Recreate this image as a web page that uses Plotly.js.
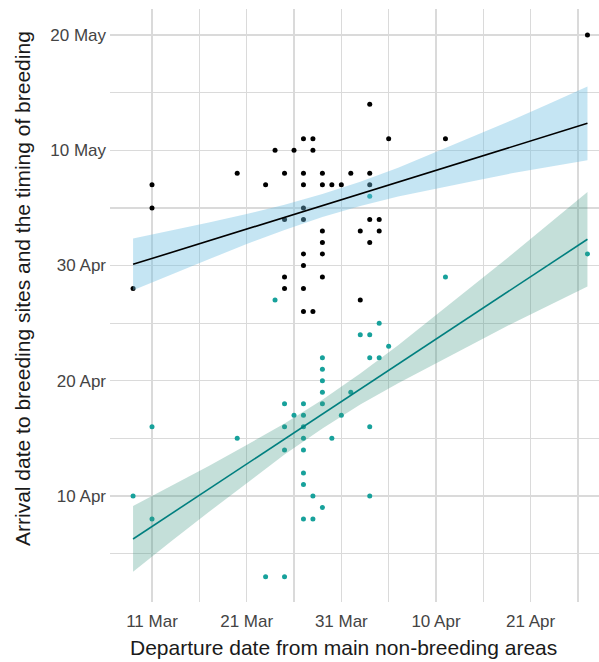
<!DOCTYPE html>
<html>
<head>
<meta charset="utf-8">
<script src="https://cdn.plot.ly/plotly-3.0.1.min.js"></script>
<style>
html,body{margin:0;padding:0;background:#fff;}
#chart{width:599px;height:662px;}
</style>
</head>
<body>
<div id="chart"></div>
<script>
// Day numbers counted from 1 March (day 0)
const xTickVals = [10, 15, 20, 25, 30, 35, 40, 45, 50, 55];
const xTickText = ["11 Mar", "", "21 Mar", "", "31 Mar", "", "10 Apr", "", "21 Apr", ""];
const yTickVals = [35, 40, 45, 50, 55, 60, 65, 70, 75, 80];
const yTickText = ["", "10 Apr", "", "20 Apr", "", "30 Apr", "", "10 May", "", "20 May"];

// Arrival to breeding sites (black)
const arrivalX = [8, 10, 10, 19, 22, 23, 24, 25, 26, 27, 27, 26, 26, 28, 28, 29, 30, 31, 24, 26, 26, 28, 28, 28, 26, 26, 24, 24, 26, 28, 26, 27, 56, 33, 35, 41, 33, 33, 33, 34, 32, 34, 33, 32];
const arrivalY = [58, 67, 65, 68, 67, 70, 68, 70, 71, 71, 70, 68, 67, 68, 67, 67, 67, 68, 64, 65, 64, 63, 62, 61, 61, 60, 59, 58, 58, 59, 56, 56, 80, 74, 71, 71, 68, 67, 64, 64, 63, 63, 62, 57];

// Timing of breeding (teal)
const breedX = [8, 10, 10, 19, 22, 24, 23, 24, 26, 25, 26, 30, 24, 26, 26, 29, 24, 26, 26, 26, 27, 28, 26, 27, 28, 28, 28, 28, 28, 31, 33, 41, 34, 32, 33, 35, 33, 34, 33, 33, 56];
const breedY = [40, 46, 38, 45, 33, 33, 57, 48, 48, 47, 47, 47, 46, 46, 45, 45, 44, 44, 42, 41, 40, 39, 38, 38, 52, 51, 50, 49, 48, 49, 66, 59, 55, 54, 54, 53, 52, 52, 46, 40, 61];

// Fitted lines and confidence bands
const fitX = [8, 12, 16, 20, 24, 28, 32, 36, 40, 44, 48, 52, 56];
const arrivalFit   = [60.10, 61.12, 62.14, 63.16, 64.18, 65.20, 66.22, 67.24, 68.26, 69.28, 70.30, 71.32, 72.34];
const arrivalLower = [57.85, 59.22, 60.54, 61.86, 63.08, 64.20, 65.17, 65.99, 66.66, 67.33, 68.00, 68.57, 69.14];
const arrivalUpper = [62.35, 63.02, 63.74, 64.46, 65.28, 66.20, 67.27, 68.49, 69.86, 71.23, 72.60, 74.07, 75.54];
const breedFit   = [36.27, 38.44, 40.61, 42.77, 44.94, 47.11, 49.28, 51.44, 53.61, 55.78, 57.95, 60.11, 62.28];
const breedLower = [33.42, 36.04, 38.61, 41.12, 43.59, 45.86, 47.93, 49.79, 51.51, 53.23, 54.95, 56.56, 58.18];
const breedUpper = [39.12, 40.84, 42.61, 44.42, 46.29, 48.36, 50.63, 53.09, 55.71, 58.33, 60.95, 63.66, 66.38];

const xTitle = 'Departure date from main non-breeding areas';
const yTitle = 'Arrival date to breeding sites and the timing of breeding';

function band(x, lo, hi, color) {
  return {
    x: x.concat(x.slice().reverse()),
    y: hi.concat(lo.slice().reverse()),
    type: 'scatter', mode: 'lines', fill: 'toself',
    fillcolor: color, line: {width: 0, color: 'rgba(0,0,0,0)'},
    hoverinfo: 'skip', showlegend: false
  };
}

const traces = [
  {x: arrivalX, y: arrivalY, type: 'scatter', mode: 'markers',
   marker: {color: '#000000', size: 5}, showlegend: false},
  {x: breedX, y: breedY, type: 'scatter', mode: 'markers',
   marker: {color: '#17a19b', size: 5}, showlegend: false},
  band(fitX, arrivalLower, arrivalUpper, 'rgba(110,190,225,0.4)'),
  {x: fitX, y: arrivalFit, type: 'scatter', mode: 'lines',
   line: {color: '#000000', width: 1.6}, showlegend: false},
  band(fitX, breedLower, breedUpper, 'rgba(60,150,130,0.3)'),
  {x: fitX, y: breedFit, type: 'scatter', mode: 'lines',
   line: {color: '#007f7f', width: 1.6}, showlegend: false}
];

const layout = {
  width: 599, height: 662,
  margin: {l: 110, r: 0, t: 9, b: 60},
  paper_bgcolor: '#ffffff', plot_bgcolor: '#ffffff',
  font: {family: 'Liberation Sans, Arial, sans-serif', color: '#333333'},
  showlegend: false,
  xaxis: {
    range: [5.563, 57.22], tickmode: 'array', tickvals: xTickVals, ticktext: xTickText,
    showgrid: true, gridcolor: '#dadada', gridwidth: 1.2, zeroline: false,
    showline: false, ticks: '', ticklabelstandoff: 7,
    tickfont: {size: 17, color: '#444444'}
  },
  yaxis: {
    range: [30.80, 82.26], tickmode: 'array', tickvals: yTickVals, ticktext: yTickText,
    showgrid: true, gridcolor: '#dadada', gridwidth: 1.2, zeroline: false,
    showline: false, ticks: '', ticklabelstandoff: 3,
    tickfont: {size: 17, color: '#444444'}
  },
  annotations: [
    {text: xTitle, xref: 'paper', yref: 'paper', x: 0.4775, y: -0.0759,
     xanchor: 'center', yanchor: 'middle', showarrow: false,
     font: {size: 21, color: '#1a1a1a'}},
    {text: yTitle, xref: 'paper', yref: 'paper', x: -0.18, y: 0.5295,
     xanchor: 'center', yanchor: 'middle', showarrow: false, textangle: -90,
     font: {size: 21, color: '#1a1a1a'}}
  ]
};

Plotly.newPlot('chart', traces, layout, {displayModeBar: false, staticPlot: true});
</script>
</body>
</html>
